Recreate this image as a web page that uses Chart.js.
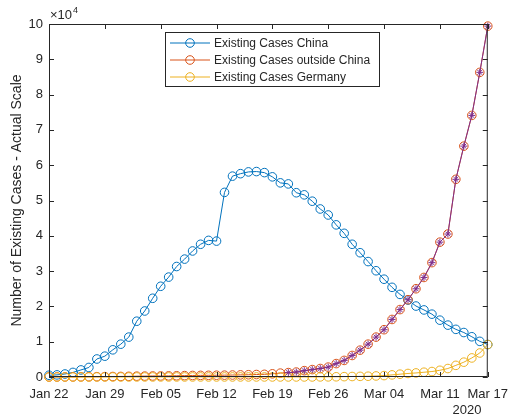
<!DOCTYPE html>
<html>
<head>
<meta charset="utf-8">
<script src="https://cdn.jsdelivr.net/npm/chart.js@4/dist/chart.umd.min.js"></script>
<style>
  html, body { margin: 0; padding: 0; background: #fff; }
  #wrap { width: 518px; height: 416px; }
</style>
</head>
<body>
<div id="wrap"><canvas id="c" width="518" height="416"></canvas></div>
<script>
// day index 0 = Jan 22 2020, 55 = Mar 17 2020
var tickDays = [0, 7, 14, 21, 28, 35, 42, 49, 55];
var tickLabels = ['Jan 22', 'Jan 29', 'Feb 05', 'Feb 12', 'Feb 19', 'Feb 26', 'Mar 04', 'Mar 11', 'Mar 17'];
var days = [0,1,2,3,4,5,6,7,8,9,10,11,12,13,14,15,16,17,18,19,20,21,22,23,24,25,26,27,
            28,29,30,31,32,33,34,35,36,37,38,39,40,41,42,43,44,45,46,47,48,49,50,51,52,53,54,55];

var china = [500, 600, 850, 1300, 2000, 2700, 5100, 5900, 7700, 9300, 11300, 15800, 18700, 22300,
             25700, 28300, 31300, 33400, 35700, 37600, 38700, 38500, 52300, 56900, 57600, 58100, 58200, 57900,
             56700, 55000, 54700, 52200, 51600, 49800, 47600, 45900, 43100, 40700, 37600, 35200, 32700, 30100,
             27700, 25400, 23400, 21800, 20100, 19000, 17800, 16100, 14700, 13500, 12600, 11400, 10100, 9200];

var outside = [10, 20, 30, 40, 55, 75, 90, 110, 140, 160, 190, 240, 260, 290,
               300, 320, 350, 390, 430, 460, 480, 500, 520, 560, 600, 640, 700, 760,
               900, 1100, 1250, 1400, 1800, 2100, 2400, 2800, 3800, 4700, 6100, 7600, 9300, 11300,
               13400, 16300, 19100, 21900, 25000, 28200, 32400, 38200, 40500, 56000, 65400, 74100, 86300, 99400];

var germany = [0, 0, 0, 0, 0, 0, 4, 4, 7, 8, 10, 12, 12, 12,
               14, 14, 14, 14, 14, 14, 14, 14, 14, 14, 14, 14, 14, 14,
               14, 14, 14, 14, 14, 14, 30, 40, 60, 100, 140, 180, 220, 300,
               400, 600, 800, 1000, 1150, 1350, 1550, 1900, 2400, 3300, 4200, 5400, 6800, 9200];

// second marker series on top of the outside-China curve (from Feb 21)
var outsideStarFrom = 30;

var labels = ['Existing Cases China', 'Existing Cases outside China', 'Existing Cases Germany'];
var colors = ['#0072BD', '#D95319', '#EDB120', '#7E2F8E'];

var FONT = '"Liberation Sans", Arial, Helvetica, sans-serif';
var INK = '#262626';

function pts(vals, from) {
  return days.map(function (d, i) {
    return { x: d, y: (from !== undefined && i < from) ? null : vals[i] };
  });
}

function lineSet(label, vals, color, order, from, star) {
  return {
    label: label,
    data: pts(vals, from),
    borderColor: color,
    backgroundColor: 'rgba(0,0,0,0)',
    borderWidth: 1,
    pointStyle: star ? 'star' : 'circle',
    pointRadius: star ? 3.5 : 4.3,
    pointBorderWidth: 1,
    pointBorderColor: color,
    pointBackgroundColor: 'rgba(0,0,0,0)',
    tension: 0,
    spanGaps: false,
    clip: false,
    order: order
  };
}

var matlabAxes = {
  id: 'matlabAxes',
  afterDraw: function (chart) {
    var ctx = chart.ctx, a = chart.chartArea;
    var xs = chart.scales.x, ys = chart.scales.y;
    ctx.save();
    ctx.strokeStyle = INK;
    ctx.lineWidth = 1;
    // box
    ctx.strokeRect(a.left + 0.5, a.top + 0.5, a.right - a.left - 1, a.bottom - a.top - 1);
    // inward ticks
    ctx.beginPath();
    tickDays.forEach(function (d) {
      var x = Math.round(xs.getPixelForValue(d)) + 0.5;
      ctx.moveTo(x, a.bottom); ctx.lineTo(x, a.bottom - 5);
      ctx.moveTo(x, a.top); ctx.lineTo(x, a.top + 5);
    });
    for (var v = 0; v <= 100000; v += 10000) {
      var y = Math.round(ys.getPixelForValue(v)) + 0.5;
      ctx.moveTo(a.left, y); ctx.lineTo(a.left + 5, y);
      ctx.moveTo(a.right, y); ctx.lineTo(a.right - 5, y);
    }
    ctx.stroke();

    // exponent label
    ctx.fillStyle = INK;
    ctx.textBaseline = 'alphabetic';
    ctx.textAlign = 'left';
    ctx.font = '13px ' + FONT;
    ctx.fillText('\u00d710', a.left + 1, 19);
    var w = ctx.measureText('\u00d710').width;
    ctx.font = '9px ' + FONT;
    ctx.fillText('4', a.left + 1 + w + 1, 13);

    // year under last ticks
    ctx.font = '13px ' + FONT;
    ctx.textAlign = 'center';
    ctx.fillText('2020', 467, 414);

    // legend
    var lx = 165.5, ly = 32.5, lw = 214, lh = 54;
    ctx.fillStyle = '#fff';
    ctx.fillRect(lx, ly, lw, lh);
    ctx.strokeStyle = INK;
    ctx.strokeRect(lx, ly, lw, lh);
    ctx.font = '12px ' + FONT;
    ctx.textAlign = 'left';
    ctx.textBaseline = 'middle';
    for (var i = 0; i < 3; i++) {
      var yy = 43 + i * 17;
      ctx.strokeStyle = colors[i];
      ctx.beginPath();
      ctx.moveTo(170, yy); ctx.lineTo(210, yy);
      ctx.stroke();
      ctx.beginPath();
      ctx.arc(190, yy, 4.3, 0, Math.PI * 2);
      ctx.stroke();
      ctx.fillStyle = INK;
      ctx.fillText(labels[i], 214, yy + 0.5);
    }
    ctx.restore();
  }
};

new Chart(document.getElementById('c'), {
  type: 'line',
  data: {
    datasets: [
      lineSet(labels[0], china, colors[0], 3),
      lineSet(labels[1], outside, colors[1], 2),
      lineSet(labels[2], germany, colors[2], 1),
      lineSet('outside China (from Feb 21)', outside, colors[3], 0, outsideStarFrom, true)
    ]
  },
  options: {
    responsive: false,
    animation: false,
    devicePixelRatio: 1,
    layout: { padding: { top: 24, right: 22, left: 0, bottom: 0 } },
    plugins: { legend: { display: false }, tooltip: { enabled: false } },
    scales: {
      x: {
        type: 'linear',
        min: 0,
        max: 55,
        afterFit: function (s) { s.height = 39; },
        afterBuildTicks: function (s) {
          s.ticks = tickDays.map(function (d) { return { value: d }; });
        },
        grid: { display: false, drawTicks: false },
        border: { display: false },
        ticks: {
          autoSkip: false,
          maxRotation: 0,
          padding: 10,
          color: INK,
          font: { family: FONT, size: 13 },
          callback: function (v) {
            var k = tickDays.indexOf(v);
            return k >= 0 ? tickLabels[k] : '';
          }
        }
      },
      y: {
        min: 0,
        max: 100000,
        afterFit: function (s) { s.width = 49; },
        grid: { display: false, drawTicks: false },
        border: { display: false },
        ticks: {
          stepSize: 10000,
          padding: 6,
          color: INK,
          font: { family: FONT, size: 13 },
          callback: function (v) { return v / 10000; }
        },
        title: {
          display: true,
          text: 'Number of Existing Cases - Actual Scale',
          color: INK,
          font: { family: FONT, size: 14 },
          padding: { top: 9, bottom: 0 }
        }
      }
    }
  },
  plugins: [matlabAxes]
});
</script>
</body>
</html>
